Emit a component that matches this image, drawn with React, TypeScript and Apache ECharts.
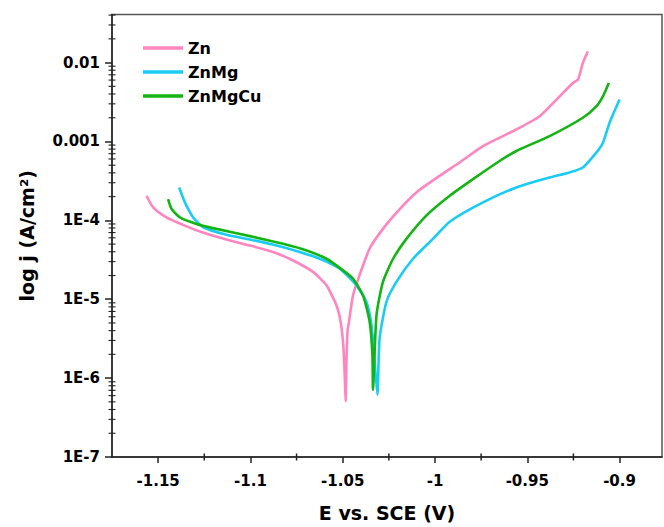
import React, { useEffect, useRef } from "react";
import * as echarts from "echarts";

// Potential (V vs SCE) and current density (A/cm²)
const znE = [-1.1563, -1.1527, -1.1455, -1.1365, -1.1274, -1.1130, -1.1003, -1.0877, -1.0769, -1.0661, -1.0588, -1.0534, -1.0510, -1.0496, -1.0488, -1.0484, -1.0480, -1.0474, -1.0466, -1.0444, -1.0409, -1.0354, -1.0282, -1.0191, -1.0101, -0.9975, -0.9867, -0.9740, -0.9559, -0.9433, -0.9343, -0.9253, -0.9225, -0.9199, -0.9172];
const znJ = [2.05e-4, 1.46e-4, 1.09e-4, 8.75e-5, 7.21e-5, 5.71e-5, 4.80e-5, 3.96e-5, 3.10e-5, 2.22e-5, 1.50e-5, 8.4e-6, 5.0e-6, 2.45e-6, 9.3e-7, 5.1e-7, 1.47e-6, 3.88e-6, 5.19e-6, 1.12e-5, 2.01e-5, 4.40e-5, 7.80e-5, 1.39e-4, 2.26e-4, 3.66e-4, 5.41e-4, 8.75e-4, 1.42e-3, 2.09e-3, 3.37e-3, 5.51e-3, 6.1e-3, 9.86e-3, 1.38e-2];

const znMgE = [-1.1386, -1.1355, -1.1310, -1.1256, -1.1130, -1.1003, -1.0859, -1.0733, -1.0624, -1.0516, -1.0426, -1.0372, -1.0344, -1.0327, -1.0312, -1.0300, -1.0263, -1.0209, -1.0119, -1.0011, -0.9920, -0.9740, -0.9559, -0.9379, -0.9271, -0.9199, -0.9126, -0.9090, -0.9054, -0.9000];
const znMgJ = [2.61e-4, 1.69e-4, 1.09e-4, 8.18e-5, 6.55e-5, 5.71e-5, 4.80e-5, 3.96e-5, 3.26e-5, 2.44e-5, 1.50e-5, 9.27e-6, 4.70e-6, 1.63e-6, 6.15e-7, 3.19e-6, 9.27e-6, 1.66e-5, 3.26e-5, 5.82e-5, 9.62e-5, 1.69e-4, 2.61e-4, 3.49e-4, 4.05e-4, 4.68e-4, 7.23e-4, 9.66e-4, 1.73e-3, 3.40e-3];

const znMgCuE = [-1.1446, -1.1427, -1.1382, -1.1292, -1.1184, -1.1003, -1.0823, -1.0696, -1.0588, -1.0498, -1.0444, -1.0390, -1.0354, -1.0339, -1.0336, -1.0317, -1.0282, -1.0227, -1.0155, -1.0047, -0.9920, -0.9794, -0.9650, -0.9559, -0.9379, -0.9199, -0.9126, -0.9090, -0.9058];
const znMgCuJ = [1.86e-4, 1.39e-4, 1.09e-4, 9.02e-5, 7.80e-5, 6.31e-5, 5.04e-5, 4.15e-5, 3.26e-5, 2.32e-5, 1.82e-5, 1.12e-5, 5.19e-6, 1.97e-6, 7.11e-7, 6.28e-6, 1.66e-5, 3.26e-5, 5.82e-5, 1.15e-4, 2.05e-4, 3.33e-4, 5.66e-4, 7.57e-4, 1.17e-3, 2.00e-3, 2.79e-3, 3.74e-3, 5.51e-3];

const seriesNames = ["Zn", "ZnMg", "ZnMgCu"];
const seriesColors = ["#FF85C0", "#1ACCF5", "#14B414"];

const xMajorTicks = [-1.15, -1.1, -1.05, -1, -0.95, -0.9];
const xMinorTicks = [-1.125, -1.075, -1.025, -0.975, -0.925];
const X_MIN = -1.175;
const X_MAX = -0.877;
const Y_MIN = 1e-7;
const Y_MAX = 0.0407;
const yMinorTicks = [
  2e-7, 3e-7, 4e-7, 5e-7, 6e-7, 7e-7, 8e-7, 9e-7,
  2e-6, 3e-6, 4e-6, 5e-6, 6e-6, 7e-6, 8e-6, 9e-6,
  2e-5, 3e-5, 4e-5, 5e-5, 6e-5, 7e-5, 8e-5, 9e-5,
  2e-4, 3e-4, 4e-4, 5e-4, 6e-4, 7e-4, 8e-4, 9e-4,
  2e-3, 3e-3, 4e-3, 5e-3, 6e-3, 7e-3, 8e-3, 9e-3,
  2e-2, 3e-2, 4e-2,
];

const FONT = "DejaVu Sans";
const TICK_COLOR = "#222";

function pairs(xs: number[], ys: number[]) {
  return xs.map((x, i) => [x, ys[i]]);
}

export default function App() {
  const ref = useRef<HTMLDivElement>(null);
  useEffect(() => {
    if (!ref.current) return;
    const chart = echarts.init(ref.current, undefined, { renderer: "svg" });
    const datasets = [pairs(znE, znJ), pairs(znMgE, znMgJ), pairs(znMgCuE, znMgCuJ)];
    const lineSeries = datasets.map((d, i) => ({
      name: seriesNames[i],
      type: "line",
      data: d,
      showSymbol: false,
      smooth: 0.2,
      lineStyle: { color: seriesColors[i], width: 2.6 },
      itemStyle: { color: seriesColors[i] },
    }));
    const xMinorSeries = {
      type: "scatter",
      silent: true,
      clip: false,
      z: 10,
      symbol: "rect",
      symbolSize: [1.5, 7],
      itemStyle: { color: TICK_COLOR, opacity: 1 },
      data: xMinorTicks.map((v) => [v, Y_MIN]),
    };
    const yMinorSeries = {
      type: "scatter",
      silent: true,
      clip: false,
      z: 10,
      symbol: "rect",
      symbolSize: [7, 1.1],
      itemStyle: { color: TICK_COLOR, opacity: 1 },
      data: yMinorTicks.map((v) => [X_MIN, v]),
    };
    chart.setOption({
      animation: false,
      grid: {
        left: 112,
        right: 2,
        top: 14.5,
        bottom: 67.7,
        show: true,
        borderColor: "#555",
        borderWidth: 1.5,
        backgroundColor: "transparent",
      },
      legend: {
        orient: "vertical",
        left: 143,
        top: 40,
        padding: 0,
        icon: "rect",
        itemWidth: 40,
        itemHeight: 3.5,
        itemGap: 8,
        data: seriesNames,
        textStyle: { fontFamily: FONT, fontWeight: "bold", fontSize: 16, color: "#000" },
      },
      xAxis: {
        type: "value",
        min: X_MIN,
        max: X_MAX,
        name: "E vs. SCE (V)",
        nameLocation: "middle",
        nameGap: 46,
        nameTextStyle: { fontFamily: FONT, fontWeight: "bold", fontSize: 19, color: "#000" },
        axisLine: { show: true, lineStyle: { color: TICK_COLOR, width: 1.5 } },
        axisTick: { show: true, length: 6, customValues: xMajorTicks, lineStyle: { color: TICK_COLOR, width: 1.5 } },
        axisLabel: {
          show: true,
          customValues: xMajorTicks,
          margin: 16,
          fontFamily: FONT,
          fontWeight: "bold",
          fontSize: 15,
          color: "#000",
        },
        splitLine: { show: false },
      },
      yAxis: {
        type: "log",
        min: Y_MIN,
        max: Y_MAX,
        name: "log j (A/cm²)",
        nameLocation: "middle",
        nameGap: 76,
        nameTextStyle: { fontFamily: FONT, fontWeight: "bold", fontSize: 19, color: "#000" },
        axisLine: { show: true, lineStyle: { color: TICK_COLOR, width: 1.5 } },
        axisTick: { show: true, length: 7, lineStyle: { color: TICK_COLOR, width: 1.5 } },
        axisLabel: {
          show: true,
          showMaxLabel: false,
          margin: 12,
          fontFamily: FONT,
          fontWeight: "bold",
          fontSize: 15,
          color: "#000",
          formatter: (v: number) => {
            const e = Math.round(Math.log10(v));
            return e >= -3 ? String(Number(v.toPrecision(1))) : "1E" + e;
          },
        },
        splitLine: { show: false },
      },
      series: [...lineSeries, xMinorSeries, yMinorSeries],
    });
    return () => chart.dispose();
  }, []);
  return (
    <div
      ref={ref}
      style={{ position: "absolute", left: 0, top: 0, width: 664, height: 527, background: "#fff" }}
    />
  );
}
